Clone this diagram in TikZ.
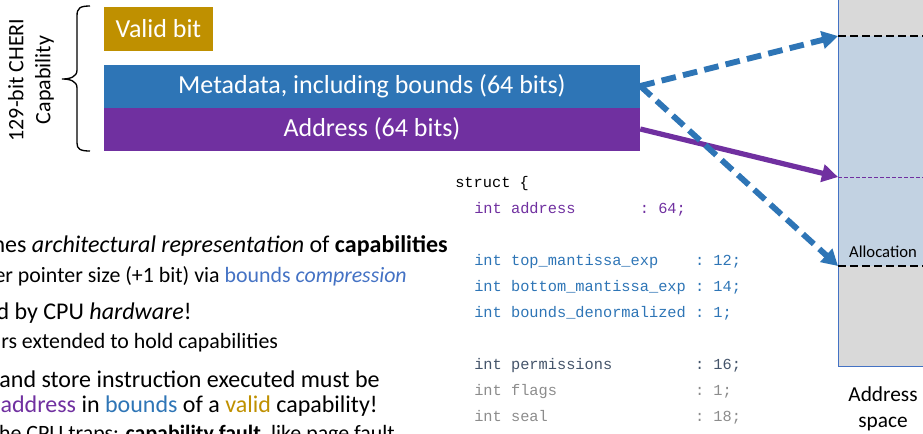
\documentclass[tikz,border=0pt]{standalone}
\usepackage{fontspec}
\setmainfont{Carlito}
\setmonofont{Liberation Mono}
\usetikzlibrary{arrows.meta}

\definecolor{validgold}{RGB}{191,144,0}
\definecolor{metablue}{RGB}{46,117,182}
\definecolor{addrpurple}{RGB}{112,48,160}
\definecolor{linkblue}{RGB}{68,114,196}
\definecolor{allocblue}{RGB}{194,210,226}
\definecolor{spacegray}{RGB}{217,217,217}
\definecolor{permgray}{RGB}{68,84,106}
\definecolor{flaggray}{RGB}{140,140,140}

\tikzset{
  capbox/.style={inner sep=0pt, text=white, font=\fontsize{19.5}{23}\selectfont},
  bigtext/.style={anchor=base east, inner sep=0pt, font=\fontsize{18}{21}\selectfont},
  subtext/.style={anchor=base east, inner sep=0pt, font=\fontsize{16.4}{19}\selectfont},
  codeline/.style={anchor=base west, inner sep=0pt, font=\ttfamily\fontsize{11.5}{14}\selectfont},
  ptr/.style={line width=3.9pt, -{Triangle[length=12pt,width=13pt]}},
  bndptr/.style={ptr, metablue, line width=4.4pt, dash pattern=on 11pt off 5.5pt},
  bndline/.style={line width=1.5pt, dash pattern=on 6pt off 3pt}
}

\begin{document}
\begin{tikzpicture}[x=0.75pt,y=-0.75pt]
\useasboundingbox (0,0) rectangle (923,433);
\clip (0,0) rectangle (923,433);

\node[capbox, fill=validgold, minimum width=81.75pt, minimum height=33pt] (valid) at (158.5,28.5) {Valid bit};
\node[capbox, fill=metablue, minimum width=402pt, minimum height=32.25pt] (meta) at (372,86) {Metadata, including bounds (64 bits)};
\node[capbox, fill=addrpurple, minimum width=402pt, minimum height=32.25pt] (addr) at (372,129) {Address (64 bits)};

\draw[line width=1pt] (90,6) .. controls (80,6) and (77,8) .. (77,16) -- (77,70)
  .. controls (77,77) and (70,79) .. (62,79) .. controls (70,79) and (77,81) .. (77,88)
  -- (77,143) .. controls (77,149) and (80,151) .. (90,151);
\node[rotate=90, align=center, inner sep=0pt, font=\fontsize{16.5}{20.25}\selectfont] (caplabel) at (31,80) {129-bit CHERI\\Capability};

\fill[spacegray] (838,-10) rectangle (940,366);
\fill[allocblue] (838,36) rectangle (940,266);
\draw[linkblue, line width=0.75pt] (940,-10) -- (838,-10) -- (838,366) -- (940,366);
\coordinate (alloctop) at (838,36);
\coordinate (allocbot) at (838,266);
\coordinate (cursor) at (838,177);
\draw[bndline] (alloctop) -- (940,36);
\draw[bndline] (allocbot) -- (940,266);
\draw[addrpurple, line width=0.6pt, dash pattern=on 3pt off 1.5pt] (cursor) -- (940,177);
\node[font=\fontsize{12.5}{15}\selectfont, inner sep=0pt] (alloc) at (883,252) {Allocation};
\node[align=center, inner sep=0pt, font=\fontsize{16}{19.5}\selectfont] (aspace) at (883,409) {Address\\space};

\draw[ptr, addrpurple] (addr.east) -- (cursor);
\draw[bndptr] (meta.east) -- (alloctop);
\draw[bndptr] (meta.east) -- (allocbot);

\node[bigtext] (l1) at (448,252) {nes \textit{architectural representation} of \textbf{capabilities}};
\node[subtext] (l2) at (407,282) {er pointer size (+1 bit) via \textcolor{linkblue}{bounds \textit{compression}}};
\node[bigtext] (l3) at (192,319) {d by CPU \textit{hardware}!};
\node[subtext, anchor=base west] (l4) at (1,348) {rs extended to hold capabilities};
\node[bigtext] (l5) at (380,387) {and store instruction executed must be};
\node[bigtext] (l6) at (378,412) {\textcolor{addrpurple}{address} in \textcolor{metablue}{bounds} of a \textcolor{validgold}{valid} capability!};
\node[subtext] (l7) at (395,440) {the CPU traps: \textbf{capability fault}, like page fault};

\node[codeline] (struct) at (455,187) {struct \{};
\foreach \y/\field/\bits/\col/\c in {213/address/64/18/addrpurple,
    265/top\_mantissa\_exp/12/24/metablue, 291/bottom\_mantissa\_exp/14/24/metablue,
    317/bounds\_denormalized/1/24/metablue, 369/permissions/16/24/permgray,
    395/flags/1/24/flaggray, 421/seal/18/24/flaggray}
  {\node[codeline, text=\c] (f\y) at (474,\y) {int \field};
   \node[codeline, text=\c] (b\y) at (474+\col*9.2,\y) {: \bits;};}
\end{tikzpicture}
\end{document}
